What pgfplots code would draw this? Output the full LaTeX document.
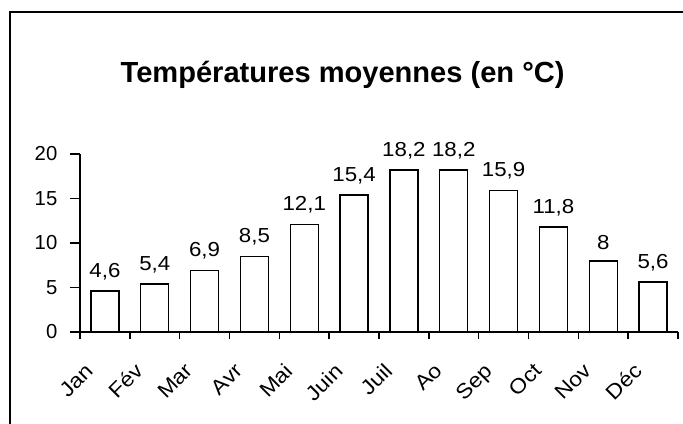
\documentclass[border=0pt]{standalone}
\usepackage{pgfplots}
\pgfplotsset{compat=1.18}
\usepackage{fontspec}
\setmainfont{Liberation Sans}
\newfontfamily\valfont{Liberation Sans}[FakeStretch=1.1]
\begin{document}
\begin{tikzpicture}
\useasboundingbox (0,0) rectangle (512.25pt,318pt);
\fill[white] (0,0) rectangle (512.25pt,318pt);
\draw[line width=1.1pt] (7.5pt,0) -- (7.5pt,309pt) -- (512.25pt,309pt);
\node[font=\fontsize{21.8}{26}\selectfont\bfseries] at (257pt,262pt) {Températures moyennes (en °C)};
\begin{axis}[
  at={(60pt,69pt)}, anchor=south west,
  scale only axis, width=448.5pt, height=133.5pt,
  xmin=-0.5, xmax=11.5, ymin=0, ymax=20,
  axis x line*=bottom, axis y line*=left,
  axis line style={line width=1.1pt, -},
  every tick/.style={line width=1.1pt, black},
  tick align=outside,
  xtick={0,...,11},
  xticklabels={Jan,Fév,Mar,Avr,Mai,Juin,Juil,Ao,Sep,Oct,Nov,Déc},
  major x tick style={draw=none},
  minor xtick={-0.5,0.5,...,11.5},
  major tick length=7.5pt, minor tick length=5.5pt,
  ytick={0,5,10,15,20},
  /pgf/number format/assume math mode=true,
  /pgf/number format/use comma,
  tick label style={font=\fontsize{15.2}{18}\selectfont},
  yticklabel style={xshift=-6pt},
  xticklabel style={font=\valfont\fontsize{15.6}{18}\selectfont, xshift=-15.5pt, yshift=-10pt, rotate=45, anchor=north east},
  ybar, bar width=21pt,
  nodes near coords,
  nodes near coords style={font=\valfont\fontsize{15.2}{18}\selectfont, yshift=4.5pt},
]
\addplot[fill=white, draw=black, line width=1.1pt] coordinates {
(0,4.6) (1,5.4) (2,6.9) (3,8.5) (4,12.1) (5,15.4) (6,18.2) (7,18.2) (8,15.9) (9,11.8) (10,8) (11,5.6)};
\end{axis}
\end{tikzpicture}
\end{document}
